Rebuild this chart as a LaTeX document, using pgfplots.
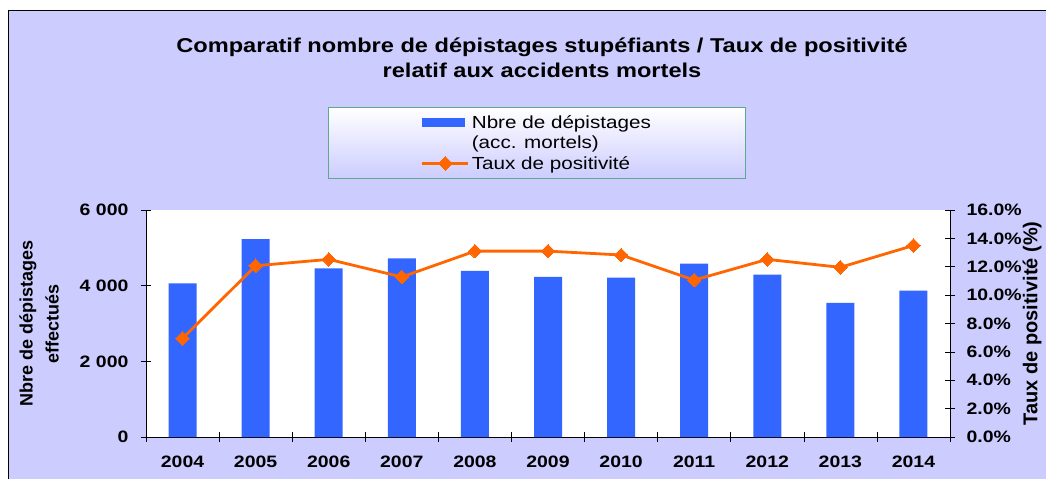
\documentclass[border=0pt]{standalone}
\usepackage{pgfplots}
\pgfplotsset{compat=1.18}
\usepackage{fontspec}
\setmainfont{Liberation Sans}[FakeStretch=1.18]
\newfontfamily\rotfont{Liberation Sans}
\definecolor{bg}{RGB}{204,204,255}
\definecolor{barblue}{RGB}{51,102,255}
\definecolor{lineorange}{RGB}{255,102,0}
\definecolor{legborder}{RGB}{96,168,140}
\pgfplotsset{mylinelegend/.style={legend image code/.code={\draw[mark repeat=2,mark phase=2,##1] plot coordinates {(0pt,0pt) (23pt,0pt) (46pt,0pt)};}}}
\begin{document}
\begin{tikzpicture}
\useasboundingbox (0pt,0pt) rectangle (1046pt,479pt);
\fill[white] (0pt,0pt) rectangle (1046pt,479pt);
\fill[bg] (8pt,0pt) rectangle (1046pt,468pt);
\draw[line width=1pt] (8pt,0pt) -- (8pt,468pt) -- (1046pt,468pt);
\node[align=center, font=\fontsize{20}{25}\selectfont\bfseries] at (542pt,421.5pt)
  {Comparatif nombre de dépistages stupéfiants / Taux de positivité\\relatif aux accidents mortels};

\begin{axis}[
  at={(146pt,42pt)}, anchor=south west, scale only axis,
  width=804pt, height=227pt,
  xmin=-0.5, xmax=10.5, ymin=0, ymax=6000,
  axis x line*=bottom, axis y line*=left,
  axis line style={line width=0.8pt, -},
  axis background/.style={fill=white},
  xtick={0,1,2,3,4,5,6,7,8,9,10},
  xticklabels={2004,2005,2006,2007,2008,2009,2010,2011,2012,2013,2014},
  minor xtick={-0.5,0.5,1.5,2.5,3.5,4.5,5.5,6.5,7.5,8.5,9.5,10.5},
  major x tick style={draw=none},
  ytick={0,2000,4000,6000},
  tick align=center, major tick length=10pt, minor tick length=10pt,
  tick style={black, line width=0.6pt},
  /pgf/number format/assume math mode=true,
  /pgf/number format/1000 sep={\ },
  yticklabel style={font=\fontsize{16.5}{18}\selectfont\bfseries, xshift=-9pt},
  xticklabel style={font=\fontsize{16.5}{18}\selectfont\bfseries, yshift=-10pt},
  ylabel={Nbre de dépistages\\effectués},
  every axis y label/.style={at={(axis description cs:-0.133,0.5)}, anchor=center, rotate=90,
    align=center, font=\fontsize{18}{26}\selectfont\rotfont\bfseries},
]
\addplot[ybar, bar width=28pt, fill=barblue, draw=none] coordinates {
  (0,4060) (1,5230) (2,4460) (3,4720) (4,4390) (5,4230)
  (6,4210) (7,4580) (8,4290) (9,3545) (10,3870)
};
\end{axis}

\begin{axis}[
  at={(146pt,42pt)}, anchor=south west, scale only axis,
  width=804pt, height=227pt,
  xmin=-0.5, xmax=10.5, ymin=0, ymax=16,
  axis y line*=right, axis x line=none,
  axis line style={line width=0.8pt, -},
  ytick={0,2,4,6,8,10,12,14,16},
  tick align=center, major tick length=10pt,
  tick style={black, line width=0.6pt},
  /pgf/number format/assume math mode=true,
  yticklabel={\pgfmathprintnumber[fixed,fixed zerofill,precision=1]{\tick}\%},
  yticklabel style={font=\fontsize{16.5}{18}\selectfont\bfseries, xshift=8pt},
  ylabel={Taux de positivité (\%)},
  every axis y label/.style={at={(axis description cs:1.102,0.5)}, anchor=center, rotate=90,
    font=\fontsize{20}{24}\selectfont\rotfont\bfseries},
  legend cell align=left,
  legend style={at={(axis description cs:0.4863,1.295)}, anchor=center,
    draw=legborder, line width=1pt, top color=white, bottom color=bg,
    inner xsep=93pt, inner ysep=5pt,
    font=\fontsize{17.5}{20}\selectfont,
    nodes={inner ysep=3pt}},
]
\addlegendimage{legend image code/.code={\fill[barblue] (0pt,-4pt) rectangle (42pt,4pt);}}
\addlegendentry{Nbre de dépistages}
\addlegendimage{empty legend}
\addlegendentry{(acc. mortels)}
\addplot[lineorange, line width=2.8pt, mark=square*, mark size=4.8pt,
  mark options={solid, rotate=45, fill=lineorange, draw=lineorange, line width=0pt},
  mylinelegend]
  coordinates {
  (0,6.95) (1,12.07) (2,12.52) (3,11.28) (4,13.1) (5,13.1)
  (6,12.83) (7,11.06) (8,12.52) (9,11.96) (10,13.5)
};
\addlegendentry{Taux de positivité}
\end{axis}
\end{tikzpicture}
\end{document}
